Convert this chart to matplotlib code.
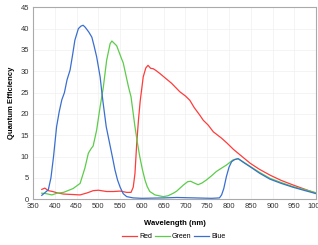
import matplotlib
matplotlib.use("Agg")
import matplotlib.pyplot as plt

plt.rcParams['font.family'] = ['Liberation Sans', 'DejaVu Sans']

# Quantum efficiency curves
red_wl = [370, 377, 385, 395, 405, 420, 440, 458, 475, 488, 500, 519, 535, 550, 565, 575,
          580, 584, 588, 592, 596, 603, 609, 614, 620, 626, 632, 641, 655, 668, 687, 700,
          710, 720, 733, 741, 752, 764, 783, 796, 810, 830, 849, 870, 895, 920, 948, 975, 1000]
red_qe = [2.3, 2.6, 2.0, 1.8, 1.5, 1.2, 1.1, 1.0, 1.5, 2.0, 2.1, 1.8, 1.8, 1.9, 1.6, 1.6,
          2.8, 6.0, 13.0, 18.5, 23.0, 28.7, 30.8, 31.4, 30.7, 30.6, 30.2, 29.5, 28.3, 27.2, 25.2, 24.2,
          23.2, 21.5, 19.7, 18.5, 17.4, 15.8, 14.3, 13.1, 11.7, 10.0, 8.4, 7.0, 5.6, 4.4, 3.3, 2.3, 1.4]

green_wl = [370, 380, 393, 405, 420, 442, 458, 469, 477, 483, 488, 496, 504, 511, 519, 527,
            531, 537, 542, 553, 557, 569, 575, 584, 590, 595, 601, 607, 612, 618, 630, 649,
            660, 672, 680, 695, 705, 712, 720, 729, 738, 748, 760, 771, 783, 794, 809, 821,
            835, 847, 870, 894, 920, 947, 975, 1000]
green_qe = [1.4, 1.3, 1.0, 1.4, 1.6, 2.5, 3.7, 7.3, 10.8, 11.8, 12.5, 16.2, 21.7, 26.0, 32.6, 36.5,
            37.1, 36.5, 36.0, 33.0, 32.0, 26.4, 24.0, 17.0, 13.0, 10.0, 7.0, 4.5, 3.0, 1.8, 1.0, 0.6,
            0.8, 1.4, 1.9, 3.3, 4.1, 4.2, 3.8, 3.4, 3.8, 4.5, 5.5, 6.5, 7.3, 8.0, 9.2, 9.5,
            8.6, 7.8, 6.3, 4.9, 3.9, 2.95, 2.2, 1.5]

blue_wl = [370, 378, 385, 391, 397, 404, 410, 416, 422, 428, 435, 441, 446, 454, 460, 465,
           470, 478, 485, 490, 496, 504, 508, 511, 518, 527, 533, 538, 544, 550, 557, 565,
           580, 600, 650, 680, 720, 760, 778, 783, 788, 794, 800, 806, 813, 821, 835, 850,
           870, 894, 920, 947, 975, 1000]
blue_qe = [0.9, 1.6, 2.2, 5.0, 10.0, 17.0, 20.5, 23.3, 25.0, 28.0, 30.3, 34.0, 37.3, 40.0, 40.6, 40.8,
           40.3, 39.2, 38.0, 36.0, 33.4, 28.7, 25.0, 22.5, 17.0, 12.5, 9.5, 6.9, 4.5, 2.8, 1.3, 0.6,
           0.3, 0.2, 0.3, 0.4, 0.3, 0.2, 0.3, 1.0, 2.5, 5.3, 7.5, 8.8, 9.3, 9.5, 8.5, 7.5,
           6.1, 4.7, 3.7, 2.8, 2.0, 1.3]

x_ticks = list(range(350, 1001, 50))
y_ticks = list(range(0, 46, 5))

fig = plt.figure(figsize=(3.18, 2.45), dpi=100)
ax = fig.add_axes([0.104, 0.187, 0.890, 0.783])

ax.plot(red_wl, red_qe, color='#ff3b3b', lw=0.9, label='Red')
ax.plot(green_wl, green_qe, color='#5ccc4a', lw=0.9, label='Green')
ax.plot(blue_wl, blue_qe, color='#3a6fd0', lw=0.9, label='Blue')

ax.set_xlim(350, 1000)
ax.set_ylim(0, 45)
ax.set_xticks(x_ticks)
ax.set_yticks(y_ticks)
ax.tick_params(labelsize=5.5, length=0, pad=3, labelcolor='#333333')
ax.grid(True, color='#f0f0f0', lw=0.5)
ax.set_axisbelow(True)
for s in ax.spines.values():
    s.set_color('#aaaaaa')
    s.set_linewidth(0.8)

ax.set_xlabel('Wavelength (nm)', fontsize=5.5, fontweight='bold', labelpad=7)
ax.set_ylabel('Quantum Efficiency', fontsize=5.5, fontweight='bold', labelpad=4)

fig.legend(loc='center', bbox_to_anchor=(0.546, 0.033), ncol=3, frameon=False,
           fontsize=5, handlelength=2.2, columnspacing=0.4, handletextpad=0.25)

fig.savefig('out.png', dpi=100)
